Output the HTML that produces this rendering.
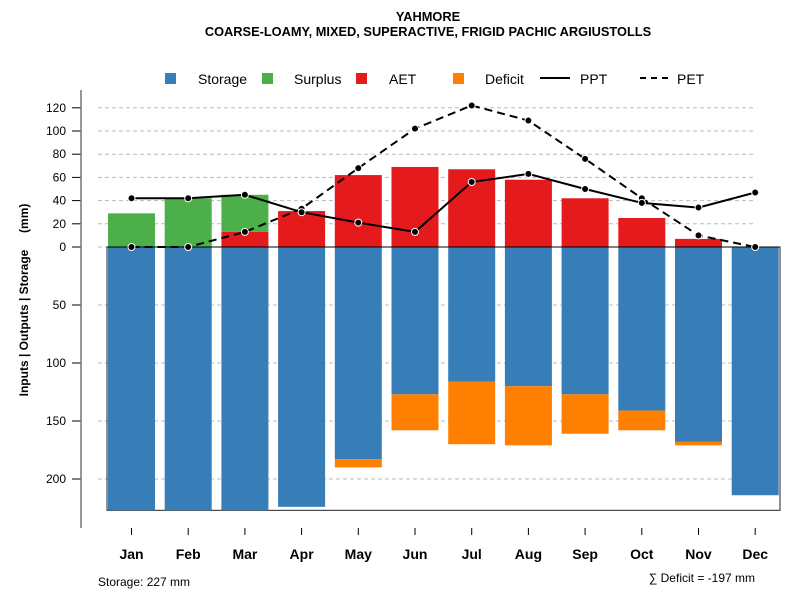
<!DOCTYPE html>
<html><head><meta charset="utf-8"><style>
body{margin:0;background:#fff;font-family:"Liberation Sans",Arial,sans-serif}
svg text{font-family:"Liberation Sans",Arial,sans-serif}
</style></head><body>
<svg id="c" width="800" height="600" xmlns="http://www.w3.org/2000/svg">
<text x="428" y="21" text-anchor="middle" font-size="12.8" font-weight="bold">YAHMORE</text>
<text x="428" y="36" text-anchor="middle" font-size="12.8" font-weight="bold">COARSE-LOAMY, MIXED, SUPERACTIVE, FRIGID PACHIC ARGIUSTOLLS</text>
<g id="legend">
<rect x="165" y="73" width="11" height="11" fill="#377EB8"/>
<text x="198" y="84" font-size="14">Storage</text>
<rect x="262" y="73" width="11" height="11" fill="#4DAF4A"/>
<text x="294" y="84" font-size="14">Surplus</text>
<rect x="356" y="73" width="11" height="11" fill="#E41A1C"/>
<text x="389" y="84" font-size="14">AET</text>
<rect x="453" y="73" width="11" height="11" fill="#FF7F00"/>
<text x="485" y="84" font-size="14">Deficit</text>
<line x1="540" y1="78" x2="570" y2="78" stroke="#000" stroke-width="2"/>
<text x="580" y="84" font-size="14">PPT</text>
<line x1="640" y1="78" x2="670" y2="78" stroke="#000" stroke-width="2" stroke-dasharray="6,5"/>
<text x="677" y="84" font-size="14">PET</text>
</g>
<text transform="translate(28,300) rotate(-90)" text-anchor="middle" font-size="12" font-weight="bold" xml:space="preserve">Inputs | Outputs | Storage     (mm)</text>
<g id="grid"></g><g id="bars"></g><g id="lines"></g><g id="axes"></g>
<text x="98" y="586" font-size="12">Storage: 227 mm</text>
<text x="755" y="582" text-anchor="end" font-size="12">∑ Deficit = -197 mm</text>
</svg>
<script>
const months=["Jan","Feb","Mar","Apr","May","Jun","Jul","Aug","Sep","Oct","Nov","Dec"];
const storage=[227,227,227,224,183,127,116,120,127,141,168,214];
const deficit=[0,0,0,0,7,31,54,51,34,17,3,0];
const aet=[0,0,13,31,62,69,67,58,42,25,7,0];
const surplus=[29,42,32,0,0,0,0,0,0,0,0,0];
const ppt=[42,42,45,30,21,13,56,63,50,38,34,47];
const pet=[0,0,13,33,68,102,122,109,76,42,10,0];
const upTicks=[0,20,40,60,80,100,120];
const downTicks=[50,100,150,200];

const NS="http://www.w3.org/2000/svg";
const Y0=247,K=1.16;
function y(v){return Y0-v*K;}
function xc(i){return 131.5+i*56.7;}
const BW=47;
function el(t,a,p){const e=document.createElementNS(NS,t);for(const k in a)e.setAttribute(k,a[k]);document.getElementById(p).appendChild(e);return e;}

upTicks.forEach(v=>{
 const g=el("line",{x1:98,x2:755,y1:y(v),y2:y(v),stroke:"#bbb","stroke-dasharray":"4,3"},"grid");
 
 
 const t=el("line",{x1:72,x2:81,y1:y(v),y2:y(v),stroke:"#000"},"axes");
 
 
 const l=el("text",{x:66,y:y(v)+4,"text-anchor":"end","font-size":12},"axes");l.textContent=v;
 
 
});
downTicks.forEach(v=>{
 const g=el("line",{x1:98,x2:755,y1:y(-v),y2:y(-v),stroke:"#bbb","stroke-dasharray":"4,3"},"grid");
 
 
 const t=el("line",{x1:72,x2:81,y1:y(-v),y2:y(-v),stroke:"#000"},"axes");
 
 
 const l=el("text",{x:66,y:y(-v)+4,"text-anchor":"end","font-size":12},"axes");l.textContent=v;
 
 
});
const ax=el("line",{x1:81,x2:81,y1:90,y2:528,stroke:"#777","stroke-width":1.5},"axes");



const maxS=Math.max(...storage);
const frame=el("rect",{x:107,y:Y0,width:673,height:maxS*K,fill:"none",stroke:"#222","stroke-width":1},"bars");



months.forEach((m,i)=>{
 const x=xc(i)-BW/2;
 const s=el("rect",{x:x,y:Y0,width:BW,height:storage[i]*K,fill:"#377EB8"},"bars");
 
 
 if(deficit[i]>0){const d=el("rect",{x:x,y:y(-storage[i]),width:BW,height:deficit[i]*K,fill:"#FF7F00"},"bars");
 
 }
 if(aet[i]>0){const a=el("rect",{x:x,y:y(aet[i]),width:BW,height:aet[i]*K,fill:"#E41A1C"},"bars");
 
 }
 if(surplus[i]>0){const su=el("rect",{x:x,y:y(aet[i]+surplus[i]),width:BW,height:surplus[i]*K,fill:"#4DAF4A"},"bars");
 
 }
 const tk=el("line",{x1:xc(i),x2:xc(i),y1:528,y2:535,stroke:"#000"},"axes");
 
 
 const lb=el("text",{x:xc(i),y:559,"text-anchor":"middle","font-size":14,"font-weight":"bold"},"axes");lb.textContent=m;
 
 
});
const zl=el("line",{x1:107,x2:780,y1:Y0,y2:Y0,stroke:"#000"},"bars");



function series(arr,name,dash){
 const p=el("polyline",{points:arr.map((v,i)=>xc(i)+","+y(v)).join(" "),fill:"none",stroke:"#000","stroke-width":2,"stroke-dasharray":dash},"lines");
 
 
 arr.forEach((v,i)=>{const c=el("circle",{cx:xc(i),cy:y(v),r:3.5,fill:"#000",stroke:"#fff","stroke-width":1},"lines");
 
 });
}
series(pet,"pet","8,5");
series(ppt,"ppt","none");
</script>
</body></html>
